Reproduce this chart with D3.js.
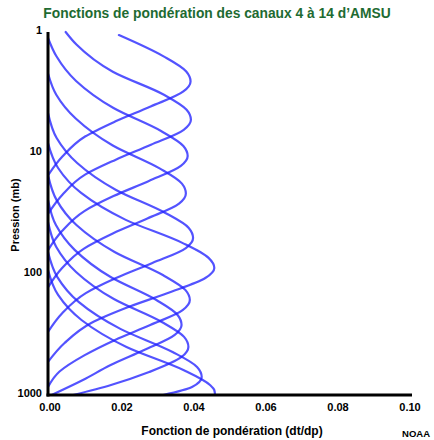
<!DOCTYPE html>
<html>
<head>
    <meta charset="utf-8">
    <script src="https://d3js.org/d3.v7.min.js"></script>
    <style>
        body { margin: 0; background: #fff; }
        text { font-family: Arial, "Liberation Sans", sans-serif; font-weight: bold; }
    </style>
</head>
<body>
<script>
    const width = 434,
        height = 440;

    // weighting functions: [pressure (mb), dT/dp]
    const ch14 = [[1.06, 0.0197], [1.59, 0.0321], [2.12, 0.0384], [2.56, 0.0396], [3.10, 0.0376], [4.13, 0.0285],
        [5.50, 0.0186], [7.31, 0.0103], [10.7, 0.0040], [15.3, 0]];
    const ch13 = [[1.0, 0.0049], [1.27, 0.0079], [2.13, 0.0180], [3.30, 0.0322], [4.39, 0.0385], [5.31, 0.0397],
        [6.43, 0.0377], [8.55, 0.0286], [11.4, 0.0187], [15.1, 0.0103], [22.1, 0.0040], [31.8, 0]];
    const ch12 = [[1.12, 0], [1.58, 0.0023], [2.54, 0.0078], [4.25, 0.0182], [6.58, 0.0314], [8.75, 0.0376],
        [10.6, 0.0388], [12.8, 0.0369], [17.1, 0.0279], [22.7, 0.0182], [30.2, 0.0101], [44.2, 0.0039], [63.4, 0]];
    const ch11 = [[2.2, 0], [3.3, 0.0023], [5.19, 0.0077], [8.67, 0.0180], [13.4, 0.0310], [17.9, 0.0372],
        [21.6, 0.0383], [26.2, 0.0364], [34.8, 0.0276], [46.3, 0.0180], [61.7, 0.0100], [90.2, 0.0038], [129, 0]];
    const ch10 = [[4.67, 0], [7.52, 0.0024], [12.1, 0.0081], [20.2, 0.0189], [31.3, 0.0326], [41.6, 0.0391],
        [50.4, 0.0403], [61.0, 0.0383], [81.1, 0.0290], [108, 0.0189], [144, 0.0105], [210, 0.0040], [301, 0]];
    const ch9 = [[8.26, 0], [13.3, 0.0028], [21.4, 0.0092], [35.7, 0.0216], [55.3, 0.0373], [73.6, 0.0446],
        [89.1, 0.0462], [108, 0.0437], [144, 0.0331], [191, 0.0216], [254, 0.0120], [372, 0.0046], [533, 0]];
    const ch8 = [[15.2, 0], [24.5, 0.0024], [39.4, 0.0079], [65.8, 0.0185], [102, 0.0319], [136, 0.0382],
        [164, 0.0394], [199, 0.0374], [264, 0.0284], [352, 0.0185], [468, 0.0102], [640, 0.0032], [860, 0]];
    const ch7 = [[24.4, 0], [39.4, 0.0022], [63.2, 0.0074], [106, 0.0174], [164, 0.0301], [218, 0.0360],
        [264, 0.0371], [319, 0.0352], [425, 0.0267], [565, 0.0174], [752, 0.0097], [1000, 0.0010]];
    const ch6 = [[37.2, 0], [59.8, 0.0023], [96.2, 0.0078], [161, 0.0183], [249, 0.0316], [331, 0.0378],
        [401, 0.0390], [485, 0.0371], [646, 0.0281], [826, 0.0175], [1000, 0.0070]];
    const ch5 = [[65.8, 0], [106, 0.0026], [170, 0.0085], [284, 0.0201], [441, 0.0346], [586, 0.0414],
        [710, 0.0427], [859, 0.0400], [1000, 0.0320]];
    const ch4 = [[92.7, 0], [149, 0.0028], [240, 0.0093], [401, 0.0218], [621, 0.0376], [826, 0.0450],
        [912, 0.0462], [1000, 0.0464]];

    const channels = [ch4, ch5, ch6, ch7, ch8, ch9, ch10, ch11, ch12, ch13, ch14];

    const xTicks = [0, 0.02, 0.04, 0.06, 0.08, 0.10];
    const yTicks = [1, 10, 100, 1000];

    const x = d3.scaleLinear().domain([0, 0.1]).range([48, 408]);
    const y = d3.scaleLog().domain([1, 1000]).range([32, 395]);

    const svg = d3.select("body").append("svg")
        .attr("width", width)
        .attr("height", height);

    svg.append("text")
        .attr("x", 217)
        .attr("y", 18)
        .attr("text-anchor", "middle")
        .attr("fill", "#1e6b32")
        .style("font-size", "13.8px")
        .text("Fonctions de pondération des canaux 4 à 14 d’AMSU");

    svg.append("clipPath").attr("id", "plot")
        .append("rect").attr("x", 48).attr("y", 30).attr("width", 370).attr("height", 366);

    const line = d3.line()
        .x(d => x(d[1]))
        .y(d => y(d[0]))
        .curve(d3.curveMonotoneY);

    svg.append("g")
        .attr("clip-path", "url(#plot)")
        .selectAll("path")
        .data(channels)
        .join("path")
        .attr("d", line)
        .attr("fill", "none")
        .attr("stroke", "#2222ff")
        .attr("stroke-opacity", 0.78)
        .attr("stroke-width", 2.2)
        .attr("stroke-linecap", "round");

    // axes: plain thick lines, labels only
    svg.append("line")
        .attr("x1", 48).attr("x2", 48)
        .attr("y1", 32).attr("y2", 396.5)
        .attr("stroke", "#000").attr("stroke-width", 3);
    svg.append("line")
        .attr("x1", 46.5).attr("x2", 412)
        .attr("y1", y(1000)).attr("y2", y(1000))
        .attr("stroke", "#000").attr("stroke-width", 3);

    svg.selectAll(".ytick")
        .data(yTicks)
        .join("text")
        .attr("class", "ytick")
        .attr("x", 42)
        .attr("y", d => y(d) + 2)
        .attr("text-anchor", "end")
        .style("font-size", "11px")
        .text(d => d);

    svg.selectAll(".xtick")
        .data(xTicks)
        .join("text")
        .attr("class", "xtick")
        .attr("x", d => x(d) + 2)
        .attr("y", 411)
        .attr("text-anchor", "middle")
        .style("font-size", "11px")
        .text(d => d3.format(".2f")(d));

    svg.append("text")
        .attr("x", 232)
        .attr("y", 435)
        .attr("text-anchor", "middle")
        .style("font-size", "12px")
        .text("Fonction de pondération (dt/dp)");

    svg.append("text")
        .attr("transform", "translate(19,215) rotate(-90)")
        .attr("text-anchor", "middle")
        .style("font-size", "11px")
        .text("Pression (mb)");

    svg.append("text")
        .attr("x", 430)
        .attr("y", 437)
        .attr("text-anchor", "end")
        .style("font-size", "9.5px")
        .text("NOAA");
</script>
</body>
</html>
